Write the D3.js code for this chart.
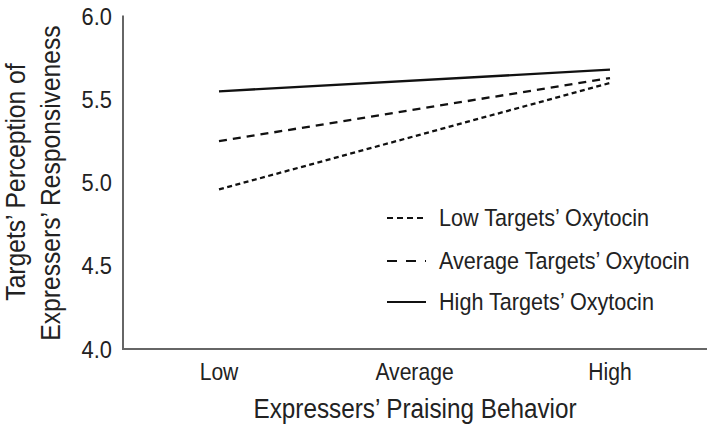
<!DOCTYPE html>
<html><head><meta charset="utf-8">
<script src="https://cdn.jsdelivr.net/npm/d3@7"></script>
<style>body{margin:0;background:#fff}svg{display:block}</style>
</head><body>
<script>
const categories = ["Low", "Average", "High"];
const seriesNames = ["Low Targets’ Oxytocin", "Average Targets’ Oxytocin", "High Targets’ Oxytocin"];
const lowOxytocin = [4.96, 5.60];
const averageOxytocin = [5.25, 5.63];
const highOxytocin = [5.55, 5.68];
const lineEnds = ["Low", "High"];
const yTicks = [4.0, 4.5, 5.0, 5.5, 6.0];

const W = 716, H = 430;
const font = "'Liberation Sans',Arial,sans-serif";
const svg = d3.select("body").append("svg").attr("width", W).attr("height", H)
  .style("font-family", font);

const x = d3.scalePoint().domain(categories).range([219, 610]);
const y = d3.scaleLinear().domain([4, 6]).range([349, 16.5]);

// condensed text helper
function ctext(px, py, str, size, sx, anchor, rot) {
  return svg.append("text")
    .attr("transform", `translate(${px},${py})${rot ? " rotate(" + rot + ")" : ""} scale(${sx},1)`)
    .attr("text-anchor", anchor).attr("font-size", size).attr("fill", "#222").text(str);
}

// axes
svg.append("line").attr("x1", 123).attr("x2", 123).attr("y1", y(6) - 1).attr("y2", y(4) + 1)
  .attr("stroke", "#666").attr("stroke-width", 2);
svg.append("line").attr("x1", 122).attr("x2", 707).attr("y1", y(4)).attr("y2", y(4))
  .attr("stroke", "#666").attr("stroke-width", 2);

yTicks.forEach(d => ctext(112, y(d) + 8.5, d.toFixed(1), 23.5, 0.93, "end"));
categories.forEach(d => ctext(x(d), 380, d, 24, 0.88, "middle"));

ctext(415, 418, "Expressers’ Praising Behavior", 27, 0.9, "middle");

ctext(25, 182, "Targets’ Perception of", 28, 0.88, "middle", -90);
ctext(60, 183, "Expressers’ Responsiveness", 28, 0.88, "middle", -90);

const series = [
  {name: seriesNames[0], vals: lowOxytocin, dash: "5,3.5"},
  {name: seriesNames[1], vals: averageOxytocin, dash: "8,6"},
  {name: seriesNames[2], vals: highOxytocin, dash: null}
];
const line = d3.line().x(d => x(d[0])).y(d => y(d[1]));
series.forEach(s => {
  svg.append("path").datum(lineEnds.map((c, i) => [c, s.vals[i]]))
    .attr("d", line).attr("fill", "none").attr("stroke", "#111").attr("stroke-width", 2.3)
    .attr("stroke-dasharray", s.dash);
});

// legend
const legY = [218, 261, 302];
series.forEach((s, i) => {
  svg.append("line").attr("x1", 387).attr("x2", 426).attr("y1", legY[i]).attr("y2", legY[i])
    .attr("stroke", "#111").attr("stroke-width", 2)
    .attr("stroke-dasharray", i === 0 ? "6,4" : i === 1 ? "10,9" : null);
  ctext(439, legY[i] + 8.4, s.name, 23.5, 0.92, "start");
});
</script>
</body></html>
